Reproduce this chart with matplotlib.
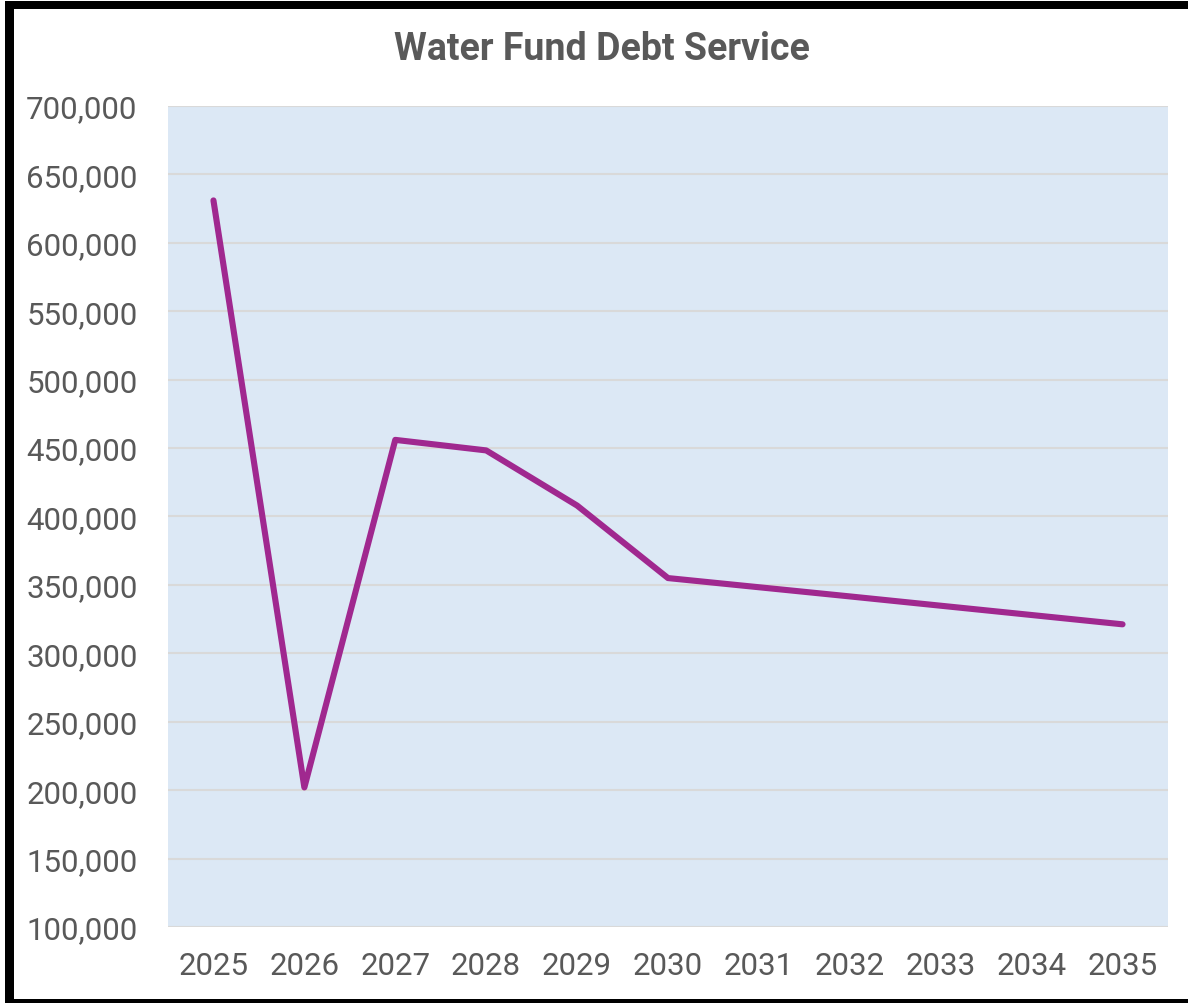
import matplotlib
matplotlib.use("Agg")
import matplotlib.pyplot as plt
from matplotlib.patches import Rectangle
from matplotlib.ticker import FuncFormatter, MultipleLocator

years = ["2025", "2026", "2027", "2028", "2029", "2030", "2031", "2032", "2033", "2034", "2035"]
debt_service = [631000, 202000, 456000, 448300, 408000, 355000, 348300, 341600, 334800, 328000, 321200]

plt.rcParams['font.family'] = ['Roboto', 'DejaVu Sans']

W, H = 1188, 1004
fig = plt.figure(figsize=(W / 100, H / 100), dpi=100)
fig.patch.set_facecolor("white")

ax = fig.add_axes([168 / W, (H - 928) / H, 1000 / W, (928 - 107) / H])
ax.set_facecolor("#DCE8F5")
x = list(range(len(years)))
ax.plot(x, debt_service, color="#A0288F", linewidth=4.4, solid_capstyle="round",
        solid_joinstyle="round", zorder=3)

ax.set_xlim(-0.5, len(years) - 0.5)
ax.set_ylim(100000, 700000)
ax.yaxis.set_major_locator(MultipleLocator(50000))
ax.yaxis.set_major_formatter(FuncFormatter(lambda v, p: f"{int(v):,}"))
ax.set_xticks(x)
ax.set_xticklabels(years)
ax.grid(axis="y", color="#D9D9D9", linewidth=1.5, zorder=1)
ax.set_axisbelow(True)
for s in ax.spines.values():
    s.set_visible(False)
ax.tick_params(axis="both", length=0, labelsize=22.5, labelcolor="#595959")
ax.tick_params(axis="y", pad=22)
ax.tick_params(axis="x", pad=17)

fig.text(602 / W, 1 - 49 / H, "Water Fund Debt Service", ha="center", va="center",
         fontsize=27, fontweight="bold", color="#595959")

# frame
fig.patches.append(Rectangle((5 / W, 0), 9 / W, 1 - 2 / H, transform=fig.transFigure,
                             facecolor="black", edgecolor="none"))
fig.patches.append(Rectangle((5 / W, 1 - 10 / H), 1 - 5 / W, 8 / H, transform=fig.transFigure,
                             facecolor="black", edgecolor="none"))
fig.patches.append(Rectangle((5 / W, 0), 1 - 5 / W, 4 / H, transform=fig.transFigure,
                             facecolor="black", edgecolor="none"))

fig.savefig("out.png", dpi=100)
